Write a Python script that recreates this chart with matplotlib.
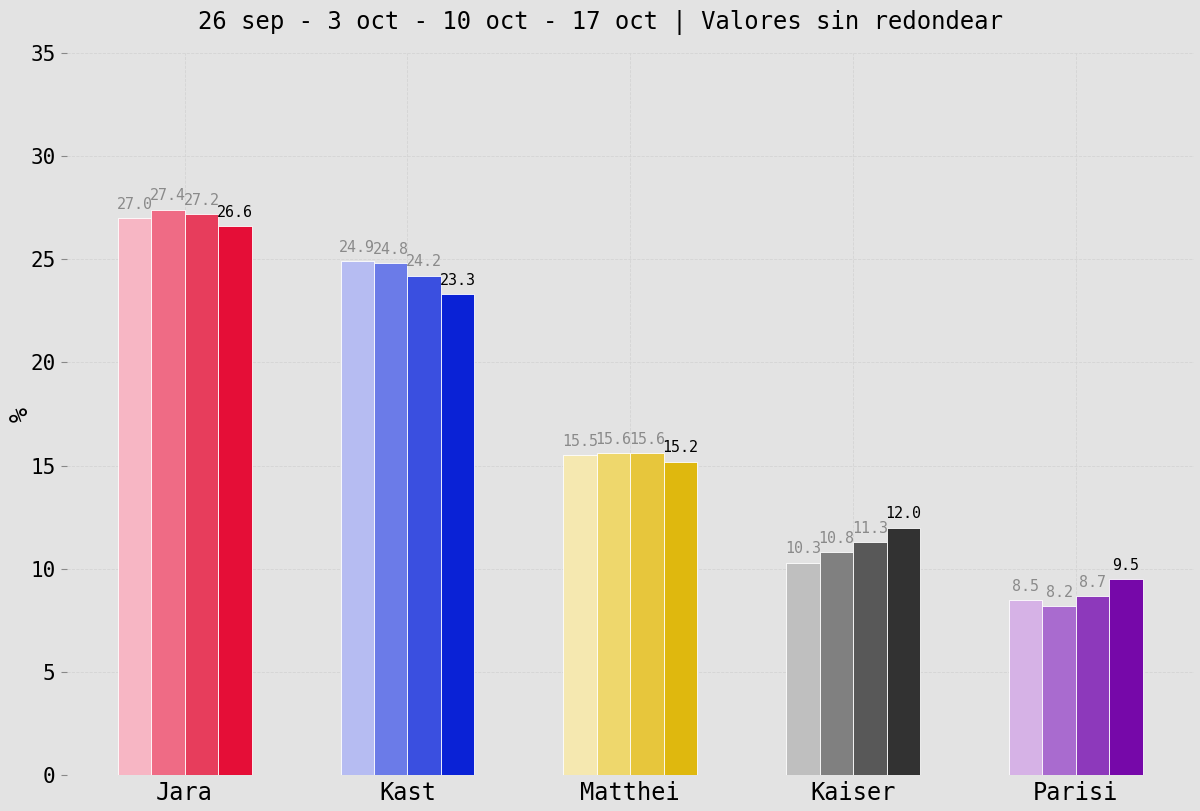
import matplotlib.pyplot as plt
import numpy as np

# ============================ Data ======================
candidates = ["Jara", "Kast", "Matthei", "Kaiser", "Parisi"]
weeks = ["26 sep", "3 oct", "10 oct", "17 oct"]
values = {
    "26 sep": [27.0, 24.9, 15.5, 10.3, 8.5],
    "3 oct": [27.4, 24.8, 15.6, 10.8, 8.2],
    "10 oct": [27.2, 24.2, 15.6, 11.3, 8.7],
    "17 oct": [26.6, 23.3, 15.2, 12.0, 9.5],
}
palette = [
    ["#f7b6c4", "#ef6b85", "#e73d5c", "#e50e37"],
    ["#b6bcf2", "#6b7be8", "#3a4fe0", "#0a22d6"],
    ["#f5e8b0", "#eed76c", "#e7c63c", "#dfb80e"],
    ["#bfbfbf", "#808080", "#585858", "#323232"],
    ["#d6b2e6", "#a96bcf", "#8d39bb", "#7608a9"],
]

plt.rcParams["font.family"] = ["DejaVu Sans Mono"]

bg = "#e3e3e3"
fig = plt.figure(figsize=(12, 8.11), dpi=100, facecolor=bg)
ax = fig.add_axes([0.0555, 0.044, 0.9395, 0.891], facecolor=bg)

x = np.arange(len(candidates))
width = 0.15
for j, wk in enumerate(weeks):
    offs = x + (j - 1.5) * width
    cols = [palette[i][j] for i in range(len(candidates))]
    bars = ax.bar(offs, values[wk], width, color=cols,
                  edgecolor="white", linewidth=0.6, zorder=3)
    last = j == len(weeks) - 1
    for b, v in zip(bars, values[wk]):
        ax.text(b.get_x() + b.get_width() / 2, v + 0.3, f"{v:.1f}",
                ha="center", va="bottom", fontsize=10.8,
                color="black" if last else "#8a8a8a", zorder=4)

ax.set_xticks(x)
ax.set_xticklabels(candidates, fontsize=17)
ax.set_ylim(0, 35)
ax.set_yticks(range(0, 36, 5))
ax.tick_params(axis="y", labelsize=15, length=4, color="#888888", pad=4)
ax.tick_params(axis="x", length=0, pad=4)
ax.set_ylabel("%", fontsize=18)
ax.yaxis.set_label_coords(-0.03, 0.5)
ax.grid(True, color="#d4d4d4", linestyle="--", linewidth=0.6, zorder=0)
for s in ax.spines.values():
    s.set_visible(False)

fig.suptitle(" - ".join(weeks) + " | Valores sin redondear",
             fontsize=17.2, y=0.988, va="top")

fig.savefig("out.png", dpi=100, facecolor=bg)
